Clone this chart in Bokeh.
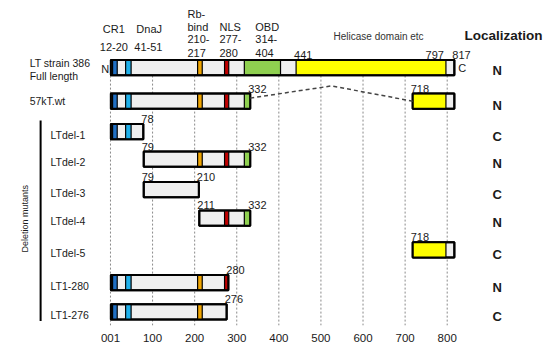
import math
from bokeh.plotting import figure
from bokeh.models import Range1d, FixedTicker
from bokeh.core.properties import value
from bokeh.embed import file_html
from bokeh.resources import INLINE

# ---------------- data ----------------
row_labels = ["LT strain 386", "57kT.wt", "LTdel-1", "LTdel-2", "LTdel-3",
              "LTdel-4", "LTdel-5", "LT1-280", "LT1-276"]
localization = ["N", "N", "C", "N", "C", "N", "C", "N", "C"]

# construct pieces (row index, first residue, last residue)
piece_row = [0, 1, 1, 2, 3, 4, 5, 6, 7, 8]
piece_start = [1, 1, 718, 1, 79, 79, 211, 718, 1, 1]
piece_end = [817, 332, 817, 78, 332, 210, 332, 817, 280, 276]
piece_domains = [
    ["Nterm", "CR1", "DnaJ", "Rb", "NLS", "OBD", "Helicase"],
    ["Nterm", "CR1", "DnaJ", "Rb", "NLS", "OBD"],
    ["Helicase"],
    ["Nterm", "CR1", "DnaJ"],
    ["Rb", "NLS", "OBD"],
    [],
    ["NLS", "OBD"],
    ["Helicase"],
    ["CR1", "DnaJ", "Rb", "NLS"],
    ["CR1", "DnaJ", "Rb"],
]

domain_names = ["Nterm", "CR1", "DnaJ", "Rb", "NLS", "OBD", "Helicase"]
domain_start = [1, 5, 36, 207, 271, 318, 441]
domain_end = [5, 16, 49, 218, 281, 404, 797]

# residue numbers written above the bars: (row, value, alignment)
num_row = [0, 0, 0, 1, 1, 2, 3, 3, 4, 4, 5, 5, 6, 7, 8]
num_value = [441, 797, 817, 332, 718, 78, 79, 332, 79, 210, 211, 332, 718, 280, 276]
num_align = ["left", "right", "left", "left", "left", "left", "left", "left",
             "left", "left", "left", "left", "left", "left", "left"]

tick_values = [0, 100, 200, 300, 400, 500, 600, 700, 800]
tick_labels = ["001", "100", "200", "300", "400", "500", "600", "700", "800"]

# ---------------- layout / styles ----------------
ROW_Y = [0, 1.1, 2.1, 3.0, 4.0, 4.93, 5.97, 7.04, 8.0]
domain_colors = {"Nterm": "#8c8c8c", "CR1": "#1f6fc4", "DnaJ": "#1fb0ea",
                 "Rb": "#f0a500", "NLS": "#c00000", "OBD": "#8fd050",
                 "Helicase": "#ffff00"}
FONT = "Liberation Sans"
TXT = "#1a1a1a"
HALF = 0.25  # half bar height in row units

p = figure(width=551, height=344, x_range=Range1d(-261.3, 1047.8),
           y_range=Range1d(8.446, -2.197), output_backend="svg",
           toolbar_location=None, y_axis_location=None,
           min_border_left=0, min_border_right=0, min_border_top=0,
           min_border_bottom=0)
p.xgrid.visible = False
p.ygrid.visible = False
p.outline_line_color = None
p.background_fill_color = "white"
p.border_fill_color = "white"

ax = p.xaxis[0]
ax.ticker = FixedTicker(ticks=tick_values)
ax.major_label_overrides = {t: l for t, l in zip(tick_values, tick_labels)}
ax.axis_line_color = None
ax.major_tick_line_color = None
ax.minor_tick_line_color = None
ax.major_label_standoff = 2
ax.major_label_text_font = FONT
ax.major_label_text_font_size = "11.5px"
ax.major_label_text_color = TXT

n_rows = len(row_labels)
py = [ROW_Y[r] for r in piece_row]

# dotted vertical grid lines
p.segment(x0=tick_values, x1=tick_values, y0=[0] * len(tick_values),
          y1=[ROW_Y[-1] + 0.55] * len(tick_values), line_color="#8a8a8a",
          line_width=1, line_dash="2 2")

# base bars
p.quad(left=piece_start, right=piece_end,
       bottom=[y + HALF for y in py], top=[y - HALF for y in py],
       fill_color="#efefef", line_color="black", line_width=2)

# domain segments
dl, dr, db, dt, dc = [], [], [], [], []
for y, s, e, doms in zip(py, piece_start, piece_end, piece_domains):
    for d in doms:
        i = domain_names.index(d)
        a, b = max(s, domain_start[i]), min(e, domain_end[i])
        if b > a:
            dl.append(a); dr.append(b); db.append(y + HALF); dt.append(y - HALF)
            dc.append(domain_colors[d])
p.quad(left=dl, right=dr, bottom=db, top=dt, fill_color=dc,
       line_color="black", line_width=1.2)
# outer borders again on top
p.quad(left=piece_start, right=piece_end,
       bottom=[y + HALF for y in py], top=[y - HALF for y in py],
       fill_color=None, line_color="black", line_width=2)

# dashed connector of the 57kT splice
y57 = ROW_Y[1]
xa, xb = piece_end[1], piece_start[2]
p.line(x=[xa, (xa + xb) / 2, xb], y=[y57 - 0.1, y57 - 0.5, y57],
       line_color="#444444", line_width=1.5, line_dash="4 3")

# residue numbers above bars
p.text(x=num_value, y=[ROW_Y[r] - HALF for r in num_row],
       text=[str(v) for v in num_value], text_align=num_align,
       text_baseline="bottom", y_offset=-1, x_offset=-2,
       text_font=value(FONT), text_font_size="11px", text_color=TXT)

# row labels
p.text(x=[-192, -192], y=[-0.16, 0.26], text=[row_labels[0], "Full length"],
       text_align="left", text_baseline="middle", text_font=value(FONT),
       text_font_size="10.5px", text_color=TXT)
p.text(x=[-192], y=[ROW_Y[1]], text=[row_labels[1]], text_align="left",
       text_baseline="middle", text_font=value(FONT), text_font_size="10.5px",
       text_color=TXT)
p.text(x=[-142.5] * (n_rows - 2), y=[y + 0.1 for y in ROW_Y[2:]],
       text=row_labels[2:], text_align="left", text_baseline="middle",
       text_font=value(FONT), text_font_size="10.5px", text_color=TXT)

# deletion mutant bracket
p.segment(x0=[-166], x1=[-166], y0=[ROW_Y[2] - 0.37], y1=[ROW_Y[-1] + 0.3],
          line_color="black", line_width=2)
p.text(x=[-202], y=[(ROW_Y[2] + ROW_Y[-1]) / 2 - 0.1], text=["Deletion mutants"],
       angle=math.pi / 2, text_align="center", text_baseline="middle",
       text_font=value(FONT), text_font_size="9px", text_color=TXT)

# N / C termini markers
p.text(x=[-3], y=[0.03], text=["N"], text_align="right", text_baseline="middle",
       text_font=value(FONT), text_font_size="11px", text_color=TXT)
p.text(x=[817], y=[0.0], text=["C"], text_align="left", text_baseline="middle",
       x_offset=4, text_font=value(FONT), text_font_size="11px", text_color=TXT)

# domain headers
hdr = [("CR1", 8, -1.28, "center"), ("12-20", 8, -0.69, "center"),
       ("DnaJ", 92, -1.28, "center"), ("41-51", 90, -0.69, "center"),
       ("Rb-", 183, -1.77, "left"), ("bind", 183, -1.34, "left"),
       ("210-", 183, -0.92, "left"), ("217", 183, -0.49, "left"),
       ("NLS", 259, -1.34, "left"), ("277-", 259, -0.92, "left"),
       ("280", 259, -0.49, "left"),
       ("OBD", 344, -1.34, "left"), ("314-", 344, -0.92, "left"),
       ("404", 344, -0.49, "left")]
for t, x, y, al in hdr:
    p.text(x=[x], y=[y], text=[t], text_align=al, text_baseline="middle",
           text_font=value(FONT), text_font_size="11px", text_color=TXT)
p.text(x=[637], y=[-1.02], text=["Helicase domain etc"], text_align="center",
       text_baseline="middle", text_font=value(FONT), text_font_size="10px",
       text_color="#333333")

# localization column
p.text(x=[934], y=[-1.05], text=["Localization"], text_align="center",
       text_baseline="middle", text_font=value(FONT), text_font_size="13.5px",
       text_font_style="bold", text_color=TXT)
p.text(x=[919] * n_rows, y=[ROW_Y[0] + 0.1] + [y + 0.15 for y in ROW_Y[1:]],
       text=localization, text_align="center", text_baseline="middle",
       text_font=value(FONT), text_font_size="13px", text_font_style="bold",
       text_color=TXT)

open("out.html", "w").write(file_html(p, INLINE))
